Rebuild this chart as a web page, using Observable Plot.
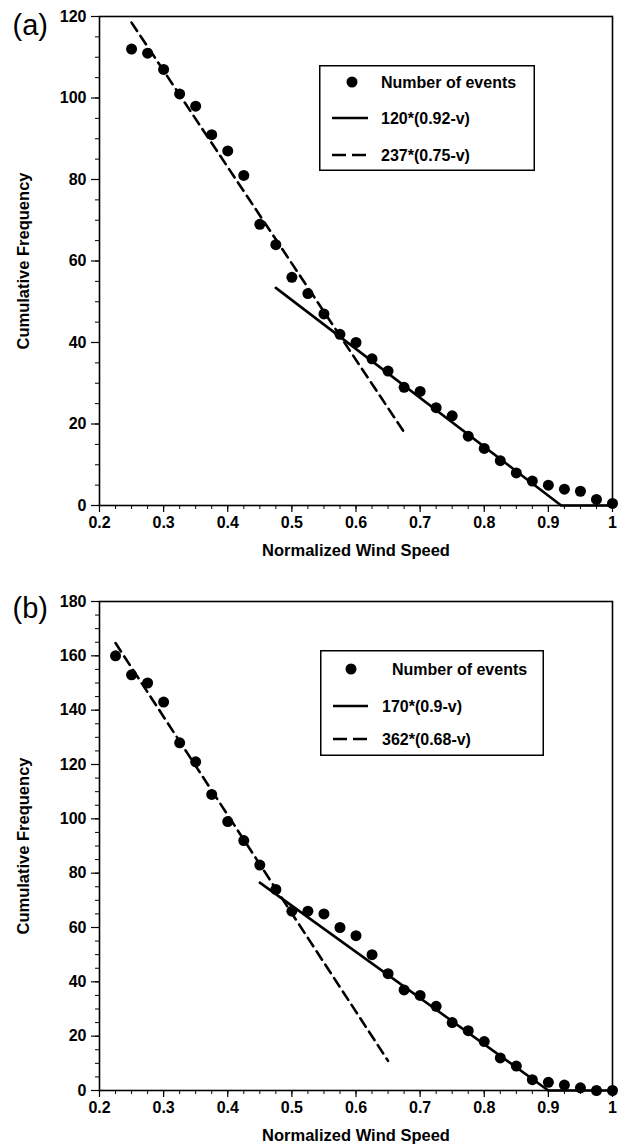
<!DOCTYPE html>
<html>
<head>
<meta charset="utf-8">
<script src="https://cdn.jsdelivr.net/npm/d3@7"></script>
<script src="https://cdn.jsdelivr.net/npm/@observablehq/plot@0.6"></script>
<style>
  body { margin: 0; background: white; }
  #wrap { position: relative; width: 622px; height: 1145px; background: white; font-family: 'Liberation Sans', Arial, sans-serif; }
  .panel { position: absolute; left: 0; }
  .legend { position: absolute; }
</style>
</head>
<body>
<div id="wrap"></div>
<script>
// ---------- data ----------
const speedA = [0.25,0.275,0.3,0.325,0.35,0.375,0.4,0.425,0.45,0.475,0.5,0.525,0.55,0.575,0.6,0.625,0.65,0.675,0.7,0.725,0.75,0.775,0.8,0.825,0.85,0.875,0.9,0.925,0.95,0.975,1.0];
const eventsA = [112,111,107,101,98,91,87,81,69,64,56,52,47,42,40,36,33,29,28,24,22,17,14,11,8,6,5,4,3.5,1.5,0.5];
const solidA_x = [0.475, 0.92, 1.0];
const solidA_y = [53.4, 0, 0];
const dashA_x = [0.25, 0.675];
const dashA_y = [118.5, 18];
const legendA = ["Number of events", "120*(0.92-v)", "237*(0.75-v)"];

const speedB = [0.225,0.25,0.275,0.3,0.325,0.35,0.375,0.4,0.425,0.45,0.475,0.5,0.525,0.55,0.575,0.6,0.625,0.65,0.675,0.7,0.725,0.75,0.775,0.8,0.825,0.85,0.875,0.9,0.925,0.95,0.975,1.0];
const eventsB = [160,153,150,143,128,121,109,99,92,83,74,66,66,65,60,57,50,43,37,35,31,25,22,18,12,9,4,3,2,1,0,0];
const solidB_x = [0.45, 0.9, 1.0];
const solidB_y = [76.5, 0, 0];
const dashB_x = [0.225, 0.65];
const dashB_y = [164.7, 10.9];
const legendB = ["Number of events", "170*(0.9-v)", "362*(0.68-v)"];

const xMajor = [0.2,0.3,0.4,0.5,0.6,0.7,0.8,0.9,1.0];
const xMinor = d3.range(0, 33).map(i => 0.2 + i * 0.025);
const yMajorA = [0,20,40,60,80,100,120];
const yMinorA = d3.range(0, 25).map(i => i * 5);
const yMajorB = [0,20,40,60,80,100,120,140,160,180];
const yMinorB = d3.range(0, 37).map(i => i * 5);

const xTitle = "Normalized Wind Speed";
const yTitle = "Cumulative Frequency";

// ---------- helpers ----------
const FONT = "'Liberation Sans', Arial, sans-serif";
const zip = (xs, ys) => xs.map((x, i) => ({x, y: ys[i]}));

function panel(opts) {
  const pts = zip(opts.sx, opts.sy);
  const solid = zip(opts.solX, opts.solY);
  const dash = zip(opts.dX, opts.dY);
  return Plot.plot({
    width: 622,
    height: opts.height,
    marginTop: opts.marginTop,
    marginBottom: opts.marginBottom,
    marginLeft: 99,
    marginRight: 10,
    x: {domain: [0.2, 1]},
    y: {domain: opts.yDomain},
    style: {fontFamily: FONT, fontSize: "16px", fontWeight: "bold", color: "black", background: "white", overflow: "visible"},
    marks: [
      Plot.axisX({ticks: xMinor, tickSize: 4, tickFormat: () => "", label: null, strokeWidth: 1}),
      Plot.axisX({ticks: xMajor, tickSize: 7, tickPadding: 4, label: null, strokeWidth: 1.2,
        tickFormat: d => Math.abs(d - 1) < 1e-9 ? "1" : d.toFixed(1)}),
      Plot.axisY({ticks: opts.yMinor, tickSize: 4, tickFormat: () => "", label: null, strokeWidth: 1}),
      Plot.axisY({ticks: opts.yMajor, tickSize: 8, tickPadding: 5, label: null, strokeWidth: 1.2}),
      Plot.frame({stroke: "black", strokeWidth: 1.6}),
      Plot.line(dash, {x: "x", y: "y", stroke: "black", strokeWidth: 2.6, strokeDasharray: "10,6"}),
      Plot.line(solid, {x: "x", y: "y", stroke: "black", strokeWidth: 2.6}),
      Plot.dot(pts, {x: "x", y: "y", r: 5.5, fill: "black", stroke: "none"}),
      Plot.text([yTitle], {frameAnchor: "left", dx: -76, rotate: -90, text: d => d, textAnchor: "middle", lineAnchor: "middle", fontSize: 16.5, fontWeight: "bold"}),
      Plot.text([xTitle], {frameAnchor: "bottom", dy: 45, text: d => d, textAnchor: "middle", lineAnchor: "middle", fontSize: 16.5, fontWeight: "bold"}),
      Plot.text([opts.tag], {frameAnchor: "top-left", dx: -87, dy: opts.tagDy, text: d => d, textAnchor: "start", lineAnchor: "middle", fontSize: 29, fontWeight: "normal", fontFamily: FONT})
    ]
  });
}

function legend(items, L) {
  const w = L.width, h = L.height;
  const ns = "http://www.w3.org/2000/svg";
  const svg = document.createElementNS(ns, "svg");
  svg.setAttribute("width", w);
  svg.setAttribute("height", h);
  svg.setAttribute("class", "legend");
  svg.style.left = L.left + "px";
  svg.style.top = L.top + "px";
  let s = `<rect x="0.75" y="0.75" width="${w - 1.5}" height="${h - 1.5}" fill="white" stroke="black" stroke-width="1.5"/>`;
  s += `<circle cx="${L.symX}" cy="${L.rows[0]}" r="5.5" fill="black"/>`;
  s += `<line x1="${L.lineX1}" x2="${L.lineX2}" y1="${L.rows[1]}" y2="${L.rows[1]}" stroke="black" stroke-width="2.6"/>`;
  s += `<line x1="${L.lineX1}" x2="${L.lineX2}" y1="${L.rows[2]}" y2="${L.rows[2]}" stroke="black" stroke-width="2.6" stroke-dasharray="${L.dash}"/>`;
  items.forEach((t, i) => {
    const tx = i === 0 ? L.text0X : L.textX;
    s += `<text x="${tx}" y="${L.rows[i]}" dominant-baseline="central" font-family="${FONT.replace(/'/g, "")}" font-size="16" font-weight="bold" fill="black">${t}</text>`;
  });
  svg.innerHTML = s;
  return svg;
}

const wrap = document.getElementById("wrap");

const pA = panel({sx: speedA, sy: eventsA, solX: solidA_x, solY: solidA_y, dX: dashA_x, dY: dashA_y,
  yDomain: [0, 120], yMajor: yMajorA, yMinor: yMinorA, height: 565, marginTop: 16, marginBottom: 60, tag: "(a)", tagDy: 9});
pA.classList.add("panel");
pA.style.top = "0px";
wrap.appendChild(pA);

const pB = panel({sx: speedB, sy: eventsB, solX: solidB_x, solY: solidB_y, dX: dashB_x, dY: dashB_y,
  yDomain: [0, 180], yMajor: yMajorB, yMinor: yMinorB, height: 580, marginTop: 36, marginBottom: 55, tag: "(b)", tagDy: 7});
pB.classList.add("panel");
pB.style.top = "565px";
wrap.appendChild(pB);

wrap.appendChild(legend(legendA, {left: 319, top: 65, width: 216, height: 106, rows: [17, 53, 90], symX: 33, lineX1: 13, lineX2: 49, dash: "14,6", text0X: 62, textX: 62}));
wrap.appendChild(legend(legendB, {left: 320, top: 650, width: 224, height: 106, rows: [19, 56, 89], symX: 31, lineX1: 13, lineX2: 48, dash: "14,6", text0X: 72, textX: 62}));
</script>
</body>
</html>
